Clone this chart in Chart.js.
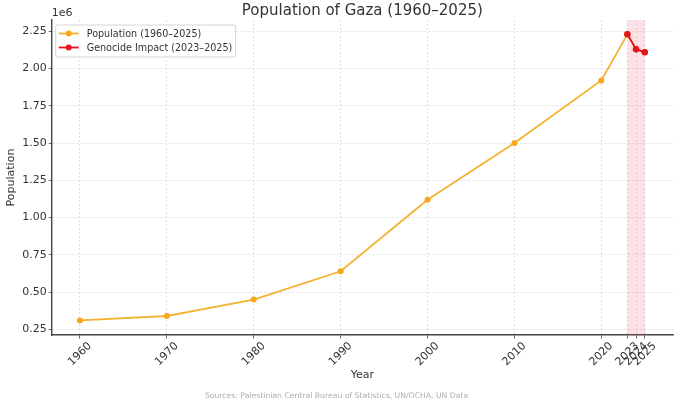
<!DOCTYPE html>
<html>
<head>
<meta charset="utf-8">
<title>Population of Gaza (1960–2025)</title>
<script src="https://cdn.jsdelivr.net/npm/chart.js@4.4.1/dist/chart.umd.min.js"></script>
<style>
    html, body { margin: 0; padding: 0; background: #fff; }
    #wrap { width: 680px; height: 407px; position: relative; }
</style>
</head>
<body>
<div id="wrap"><canvas id="gazaChart"></canvas></div>
<script>
// data
const years = [1960, 1970, 1980, 1990, 2000, 2010, 2020, 2023, 2024, 2025];
const population = [310000, 340000, 450000, 640000, 1120000, 1500000, 1920000, 2230000, 2130000, 2110000];
const impactYears = [2023, 2024, 2025];
const impactPopulation = [2230000, 2130000, 2110000];

const xTickYears = [1960, 1970, 1980, 1990, 2000, 2010, 2020, 2023, 2024, 2025];
const yTickValues = [250000, 500000, 750000, 1000000, 1250000, 1500000, 1750000, 2000000, 2250000];

const shadeStart = 2023;
const shadeEnd = 2025;

const popLabel = 'Population (1960–2025)';
const impactLabel = 'Genocide Impact (2023–2025)';
const orange = '#f4b233';
const orangePoint = '#f7a71b';
const red = '#e4151f';

Chart.defaults.font.family = "'DejaVu Sans', sans-serif";
Chart.defaults.color = '#333';

function toPoints(xs, ys) {
    return xs.map((x, i) => ({ x: x, y: ys[i] }));
}

// pink band for the 2023–2025 period
const shadePlugin = {
    id: 'shade',
    beforeDatasetsDraw(chart) {
        const { ctx, chartArea, scales } = chart;
        const x0 = scales.x.getPixelForValue(shadeStart);
        const x1 = scales.x.getPixelForValue(shadeEnd);
        ctx.save();
        ctx.fillStyle = 'rgba(240, 90, 110, 0.18)';
        ctx.fillRect(x0, chartArea.top, x1 - x0, chartArea.bottom - chartArea.top);
        ctx.restore();
    }
};

// matplotlib-like bits: centred rotated year labels, offset text, inner legend
const decorPlugin = {
    id: 'decor',
    afterDraw(chart) {
        const { ctx, chartArea, scales } = chart;
        ctx.save();

        ctx.fillStyle = '#333';
        ctx.font = "11px 'DejaVu Sans'";
        ctx.textAlign = 'center';
        ctx.textBaseline = 'middle';
        xTickYears.forEach(yr => {
            const px = scales.x.getPixelForValue(yr);
            ctx.save();
            ctx.translate(px, chartArea.bottom + 19);
            ctx.rotate(-Math.PI / 4);
            ctx.fillText(String(yr), 0, 0);
            ctx.restore();
        });

        ctx.textAlign = 'left';
        ctx.fillText('1e6', chartArea.left, 13);

        // legend box
        const lx = chartArea.left + 4, ly = chartArea.top + 5, lw = 180, lh = 32;
        ctx.fillStyle = 'rgba(255,255,255,0.85)';
        ctx.strokeStyle = '#d6d6d6';
        ctx.lineWidth = 1;
        ctx.beginPath();
        ctx.roundRect(lx, ly, lw, lh, 2);
        ctx.fill();
        ctx.stroke();

        const rows = [
            { label: popLabel, line: orange, dot: orangePoint },
            { label: impactLabel, line: red, dot: red }
        ];
        ctx.font = "9.6px 'DejaVu Sans'";
        rows.forEach((r, i) => {
            const cy = ly + 8.5 + i * 14;
            ctx.strokeStyle = r.line;
            ctx.lineWidth = 1.8;
            ctx.beginPath();
            ctx.moveTo(lx + 3, cy);
            ctx.lineTo(lx + 23, cy);
            ctx.stroke();
            ctx.fillStyle = r.dot;
            ctx.beginPath();
            ctx.arc(lx + 13, cy, 3, 0, Math.PI * 2);
            ctx.fill();
            ctx.fillStyle = '#333';
            ctx.fillText(r.label, lx + 31, cy + 0.5);
        });

        ctx.restore();
    }
};

const data = {
    datasets: [
        {
            label: impactLabel,
            data: toPoints(impactYears, impactPopulation),
            borderColor: red,
            backgroundColor: red,
            borderWidth: 1.8,
            pointRadius: 3.3,
            pointBackgroundColor: red,
            pointBorderWidth: 0,
            order: 0
        },
        {
            label: popLabel,
            data: toPoints(years, population),
            borderColor: orange,
            backgroundColor: orangePoint,
            borderWidth: 1.8,
            pointRadius: 3,
            pointBackgroundColor: orangePoint,
            pointBorderWidth: 0,
            order: 1
        }
    ]
};

const config = {
    type: 'line',
    data: data,
    options: {
        responsive: true,
        maintainAspectRatio: false,
        animation: false,
        layout: { padding: { left: 0, right: 7, top: 0, bottom: 6 } },
        plugins: {
            legend: { display: false },
            tooltip: { enabled: false },
            title: {
                display: true,
                text: 'Population of Gaza (1960–2025)',
                fullSize: false,
                color: '#333',
                font: { size: 15, weight: 'normal' },
                padding: { top: 2, bottom: 0 }
            },
            subtitle: {
                display: true,
                position: 'bottom',
                text: 'Sources: Palestinian Central Bureau of Statistics, UN/OCHA, UN Data',
                color: '#adadad',
                font: { size: 7.7 },
                padding: { top: 6, bottom: 0 }
            }
        },
        scales: {
            x: {
                type: 'linear',
                min: 1956.75,
                max: 2028.25,
                afterBuildTicks: scale => {
                    scale.ticks = xTickYears.map(v => ({ value: v }));
                },
                ticks: { display: false },
                grid: {
                    color: '#d9d9d9',
                    lineWidth: 0.8,
                    tickLength: 3.5,
                    tickColor: '#444',
                    tickBorderDash: []
                },
                border: { color: '#444', width: 1.4, dash: [2, 2] },
                title: {
                    display: true,
                    text: 'Year',
                    color: '#333',
                    font: { size: 11 },
                    padding: { top: 30, bottom: 4 }
                }
            },
            y: {
                min: 212000,
                max: 2326000,
                afterBuildTicks: scale => {
                    scale.ticks = yTickValues.map(v => ({ value: v }));
                },
                ticks: {
                    color: '#333',
                    font: { size: 11 },
                    padding: 2,
                    callback: v => (v / 1e6).toFixed(2)
                },
                grid: {
                    color: '#d9d9d9',
                    lineWidth: 0.8,
                    tickLength: 3,
                    tickColor: '#444',
                    tickBorderDash: []
                },
                border: { color: '#444', width: 1.4, dash: [2, 2] },
                title: {
                    display: true,
                    text: 'Population',
                    color: '#333',
                    font: { size: 11 },
                    padding: { top: 5, bottom: 2 }
                }
            }
        }
    },
    plugins: [shadePlugin, decorPlugin]
};

const ctx = document.getElementById('gazaChart').getContext('2d');
const chart = new Chart(ctx, config);
</script>
</body>
</html>
